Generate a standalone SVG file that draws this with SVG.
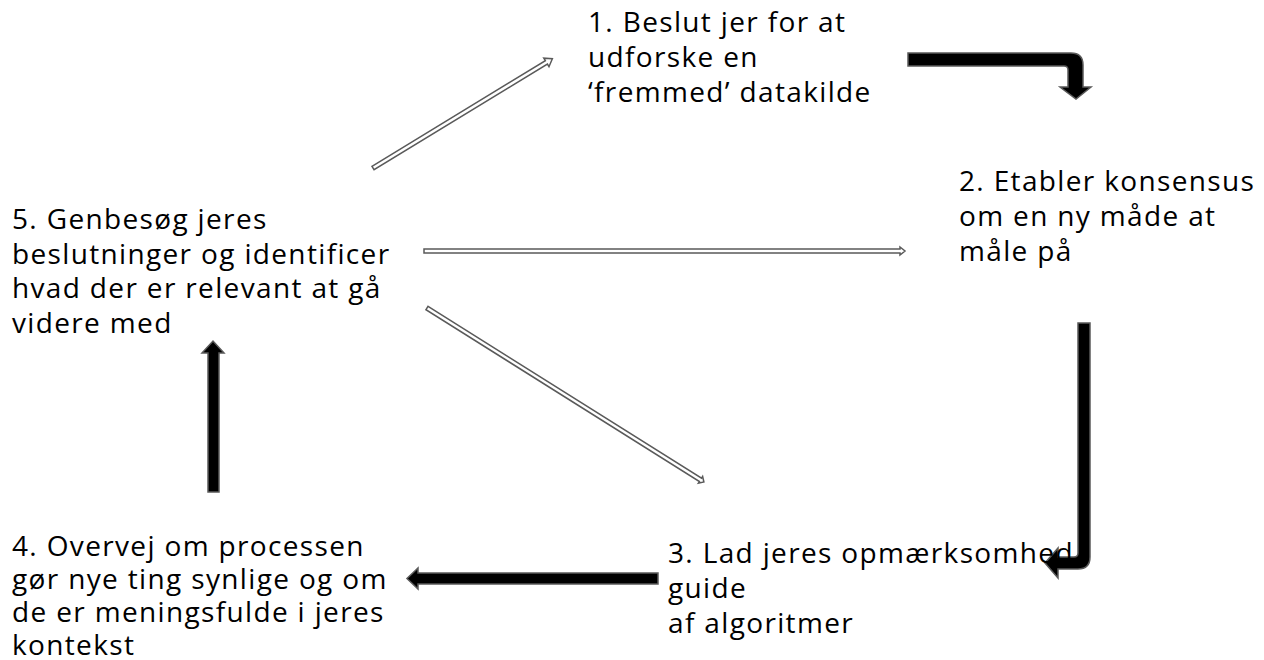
<svg xmlns="http://www.w3.org/2000/svg" width="1264" height="660" viewBox="0 0 1264 660">
  <style>
    .lbl { font-family: "Open Sans", "Liberation Sans", sans-serif; font-size: 28px; letter-spacing: 1.35px; fill: #000; }
    .bold-arrow { fill: #000; stroke: #5a5a5a; stroke-width: 1.5; stroke-linejoin: miter; }
    .thin-arrow { fill: #fff; stroke: #5a5a5a; stroke-width: 1.5; stroke-linejoin: miter; }
  </style>
  <rect width="1264" height="660" fill="#fff"/>

  <g id="connectors">
    <!-- cycle arrows (solid, heavy) -->
    <path class="bold-arrow" d="M908,53 H1071 Q1083,53 1083,65 V87 H1091 L1076,99 L1060,87 H1068 V70 Q1068,66 1064,66 H908 Z"/>
    <path class="bold-arrow" d="M1078,323 H1090 V557 Q1090,569 1078,569 H1058 V578 L1045,563 L1058,548 V557 H1074 Q1078,557 1078,553 Z"/>
    <path class="bold-arrow" d="M658,573 H418 V568 L407,578.5 L418,589 V584 H658 Z"/>
    <path class="bold-arrow" d="M208,492 V353 H202 L213,341 L224,353 H219 V492 Z"/>
    <!-- revisit arrows (hollow, thin) -->
    <g transform="translate(373,168) rotate(-31.34)">
      <polygon class="thin-arrow" points="0,-2 203,-2 203,-5 210,0 203,5 203,2 0,2"/>
    </g>
    <g transform="translate(424,251)">
      <polygon class="thin-arrow" points="0,-2 476,-2 476,-4 481,0 476,4 476,2 0,2"/>
    </g>
    <g transform="translate(427,308) rotate(32.14)">
      <polygon class="thin-arrow" points="0,-2 323,-2 323,-4 327,0 323,4 323,2 0,2"/>
    </g>
  </g>

  <g id="step1">
    <text class="lbl" x="588" y="32">1. Beslut jer for at</text>
    <text class="lbl" x="588" y="67">udforske en</text>
    <text class="lbl" x="588" y="102">‘fremmed’ datakilde</text>
  </g>
  <g id="step2">
    <text class="lbl" x="959" y="191">2. Etabler konsensus</text>
    <text class="lbl" x="959" y="226">om en ny måde at</text>
    <text class="lbl" x="959" y="261">måle på</text>
  </g>
  <g id="step3">
    <text class="lbl" x="668" y="563">3. Lad jeres opmærksomhed</text>
    <text class="lbl" x="668" y="598">guide</text>
    <text class="lbl" x="668" y="633">af algoritmer</text>
  </g>
  <g id="step4">
    <text class="lbl" x="12" y="556">4. Overvej om processen</text>
    <text class="lbl" x="12" y="589">gør nye ting synlige og om</text>
    <text class="lbl" x="12" y="622">de er meningsfulde i jeres</text>
    <text class="lbl" x="12" y="655">kontekst</text>
  </g>
  <g id="step5">
    <text class="lbl" x="12" y="229">5. Genbesøg jeres</text>
    <text class="lbl" x="12" y="264">beslutninger og identificer</text>
    <text class="lbl" x="12" y="298">hvad der er relevant at gå</text>
    <text class="lbl" x="12" y="333">videre med</text>
  </g>
</svg>
